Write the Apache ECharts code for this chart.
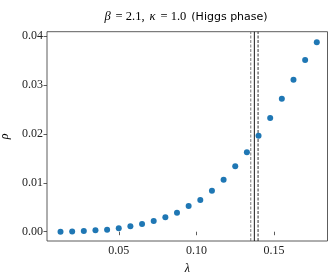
<!DOCTYPE html>
<html>
<head>
<meta charset="utf-8">
<script src="https://cdn.jsdelivr.net/npm/echarts@6/dist/echarts.min.js"></script>
<style>html,body{margin:0;padding:0;background:#fff}#c{width:333px;height:278px}</style>
</head>
<body>
<div id="c"></div>
<script>
const lambdaValues = [0.0125,0.02,0.0275,0.035,0.0425,0.05,0.0575,0.065,0.0725,0.08,0.0875,0.095,0.1025,0.11,0.1175,0.125,0.1325,0.14,0.1475,0.155,0.1625,0.17,0.1775];
const rhoValues = [0.0000,0.00003,0.00014,0.00029,0.00041,0.0007,0.0011,0.00157,0.00219,0.00294,0.00389,0.00526,0.00648,0.00838,0.01063,0.01337,0.01624,0.01963,0.02325,0.0272,0.03108,0.03511,0.03873];
const xTicks = [0.05, 0.10, 0.15];
const yTicks = [0.00, 0.01, 0.02, 0.03, 0.04];
const criticalLambda = 0.1373;
const criticalLow = 0.1350;
const criticalHigh = 0.1397;
const xMin = 0.0038, xMax = 0.1844, yMin = -0.0019, yMax = 0.04088;

const serif = '"Liberation Serif","DejaVu Serif",serif';
function vline(x, type, color, width){
  return {type:'line',data:[[x,yMin],[x,yMax]],symbol:'none',silent:true,z:2,
    lineStyle:{type:type,color:color,width:width}};
}
const chart = echarts.init(document.getElementById('c'), null, {renderer:'canvas'});
chart.setOption({
  animation:false,
  title:{
    text:'{i|β} {n|= 2.1,} {i|κ} {n|= 1.0} {s|(Higgs phase)}',
    left:181, top:3, textAlign:'center',
    textStyle:{fontWeight:'normal',rich:{
      i:{fontFamily:serif,fontStyle:'italic',fontWeight:'normal',fontSize:12.5,color:'#000'},
      n:{fontFamily:serif,fontWeight:'normal',fontSize:12.5,color:'#000'},
      s:{fontFamily:'"DejaVu Sans",sans-serif',fontWeight:'normal',fontSize:11,color:'#000'}
    }}
  },
  grid:{left:47,right:5.5,top:31.7,bottom:37,outerBoundsMode:'none',containLabel:false,show:true,borderColor:'#333',borderWidth:0.8,backgroundColor:'transparent'},
  xAxis:{
    type:'value',min:xMin,max:xMax,
    name:'λ',nameLocation:'middle',nameGap:22,
    nameTextStyle:{fontFamily:serif,fontStyle:'italic',fontSize:12,color:'#000'},
    axisLine:{show:false},
    splitLine:{show:false},
    axisTick:{show:true,customValues:xTicks,length:3.5,lineStyle:{color:'#333',width:0.8}},
    axisLabel:{customValues:xTicks,formatter:v=>v.toFixed(2),fontFamily:serif,fontSize:12,color:'#222',margin:4}
  },
  yAxis:{
    type:'value',min:yMin,max:yMax,
    name:'ρ',nameLocation:'middle',nameGap:31,nameRotate:90,
    nameTextStyle:{fontFamily:serif,fontStyle:'italic',fontSize:12,color:'#000'},
    axisLine:{show:false},
    splitLine:{show:false},
    axisTick:{show:true,customValues:yTicks,length:3.5,lineStyle:{color:'#333',width:0.8}},
    axisLabel:{customValues:yTicks,formatter:v=>v.toFixed(2),fontFamily:serif,fontSize:12,color:'#222',margin:4}
  },
  series:[
    vline(criticalLow,[3,1.5],'#555',0.8),
    vline(criticalLambda,'solid','#000',0.9),
    vline(criticalHigh,[3,1.5],'#000',0.8),
    {
      type:'scatter',
      data:lambdaValues.map((x,i)=>[x,rhoValues[i]]),
      symbolSize:6,
      itemStyle:{color:'#1f77b4',opacity:1},
      z:3
    }
  ]
});
</script>
</body>
</html>
